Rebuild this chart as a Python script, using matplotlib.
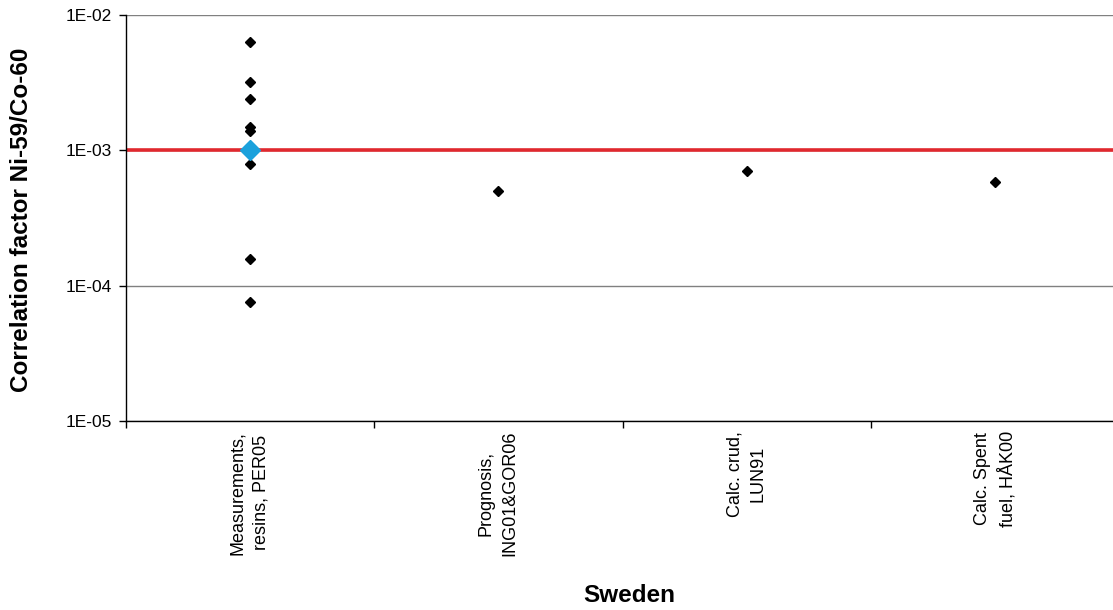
import matplotlib
matplotlib.use("Agg")
import matplotlib.pyplot as plt
from matplotlib.ticker import FixedLocator, NullFormatter

plt.rcParams['font.family'] = ['Liberation Sans', 'DejaVu Sans']

categories = ["Measurements,\nresins, PER05", "Prognosis,\nING01&GOR06",
              "Calc. crud,\nLUN91", "Calc. Spent\nfuel, HÅK00"]
# individual values per category (index into categories)
point_cat = [0, 0, 0, 0, 0, 0, 0, 0, 1, 2, 3]
point_val = [6.3e-3, 3.2e-3, 2.4e-3, 1.5e-3, 1.4e-3, 7.9e-4, 1.58e-4, 7.6e-5,
             5.0e-4, 7.0e-4, 5.8e-4]
mean_cat = [0]
mean_val = [1.0e-3]
ref_level = 1.0e-3
y_ticks = [1e-5, 1e-4, 1e-3, 1e-2]
y_tick_labels = ["1E-05", "1E-04", "1E-03", "1E-02"]

W, H = 1113, 610
fig = plt.figure(figsize=(W / 100, H / 100), dpi=100)
left_px, top_px, bottom_px, right_px = 125.5, 15, 421, 1113
ax = fig.add_axes([left_px / W, 1 - bottom_px / H, (right_px - left_px) / W,
                   (bottom_px - top_px) / H])

ax.set_yscale('log')
ax.set_ylim(1e-5, 1e-2)
ax.set_xlim(-0.5, -0.5 + (right_px - left_px) / 248.5)

for v in y_ticks:
    ax.axhline(v, color='#808080', lw=1.0, zorder=1)
ax.axhline(ref_level, color='#E0282E', lw=2.6, zorder=2)

ax.plot(point_cat, point_val, linestyle='none', marker='D', markersize=5.5,
        color='black', zorder=3)
ax.plot(mean_cat, mean_val, linestyle='none', marker='D', markersize=10,
        color='#1BA1DC', zorder=4)

ax.yaxis.set_major_locator(FixedLocator(y_ticks))
ax.set_yticklabels(y_tick_labels)
ax.yaxis.set_minor_locator(FixedLocator([]))
ax.tick_params(axis='y', which='major', direction='out', length=5, width=1,
               labelsize=12.5, pad=5)

ax.set_xticks(range(len(categories)))
ax.set_xticklabels(categories, rotation=90, fontsize=13, va='top',
                   ha='center', multialignment='center', linespacing=1.5)
ax.tick_params(axis='x', which='major', length=0, pad=7)
ax.xaxis.set_minor_locator(FixedLocator([-0.5, 0.5, 1.5, 2.5, 3.5]))
ax.xaxis.set_minor_formatter(NullFormatter())
ax.tick_params(axis='x', which='minor', direction='out', length=5, width=1)

for s in ['top', 'right']:
    ax.spines[s].set_visible(False)
ax.spines['left'].set_linewidth(1)
ax.spines['bottom'].set_linewidth(1)

fig.text(22 / W, 1 - 220 / H, "Correlation factor Ni-59/Co-60", rotation=90,
         ha='center', va='center', fontsize=17.5, fontweight='bold')
fig.text(629 / W, 1 - 595 / H, "Sweden", ha='center', va='center',
         fontsize=17.5, fontweight='bold')

fig.savefig("out.png", dpi=100)
